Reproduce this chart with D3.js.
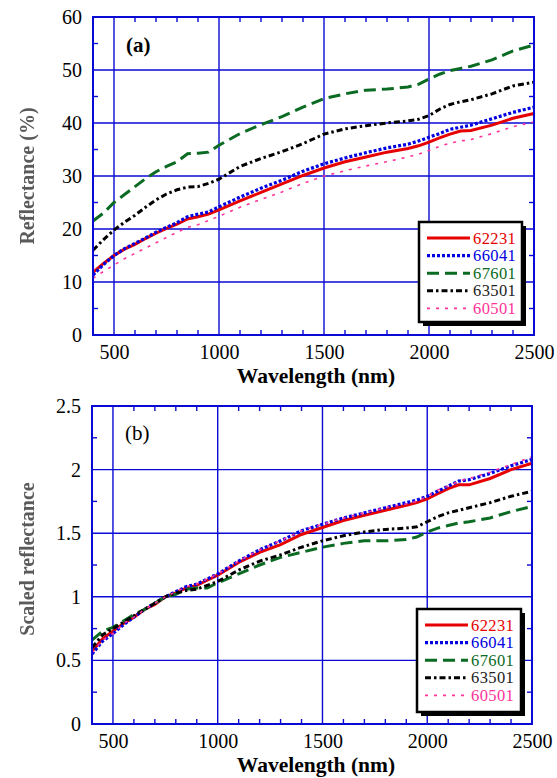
<!DOCTYPE html>
<html>
<head>
<meta charset="utf-8">
<script src="https://cdn.jsdelivr.net/npm/d3@7"></script>
<style>
  body { margin: 0; background: #fff; }
  svg { display: block; }
  text { font-family: "Liberation Serif", "Times New Roman", serif; }
</style>
</head>
<body>
<div id="chart"></div>
<script>
// wavelengths (nm) shared by every series
var wavelengths = [400, 450, 500, 550, 600, 650, 700, 750, 800, 850, 900, 950, 1000,
    1100, 1200, 1300, 1400, 1500, 1600, 1700, 1800, 1900, 1950, 2000, 2050, 2100,
    2150, 2200, 2300, 2400, 2500];

var sampleNames = ["62231", "66041", "67601", "63501", "60501"];

// (a) reflectance in %
var refl62231 = [11.8, 13.5, 15.0, 16.2, 17.1, 18.2, 19.2, 20.1, 20.9, 21.9, 22.3, 22.8, 23.6, 25.3, 26.9, 28.5, 30.1, 31.5, 32.7, 33.6, 34.5, 35.2, 35.7, 36.4, 37.2, 37.9, 38.5, 38.6, 39.6, 40.9, 41.8];
var refl66041 = [11.3, 13.3, 15.0, 16.3, 17.3, 18.3, 19.4, 20.3, 21.2, 22.3, 22.8, 23.2, 24.2, 26.0, 27.7, 29.2, 30.9, 32.3, 33.4, 34.4, 35.3, 36.0, 36.6, 37.3, 38.0, 38.8, 39.2, 39.6, 40.8, 42.0, 43.0];
var refl67601 = [21.5, 23.0, 25.0, 26.5, 28.0, 29.5, 30.8, 31.8, 32.7, 34.2, 34.3, 34.5, 35.8, 38.0, 39.7, 41.2, 43.0, 44.6, 45.5, 46.2, 46.4, 46.8, 47.3, 48.3, 49.2, 49.9, 50.3, 50.7, 51.9, 53.6, 54.7];
var refl63501 = [16.0, 18.0, 19.8, 21.3, 22.6, 24.1, 25.5, 26.6, 27.4, 27.9, 28.0, 28.6, 29.4, 31.8, 33.3, 34.6, 36.1, 37.9, 38.9, 39.5, 40.0, 40.4, 40.7, 41.4, 42.6, 43.5, 44.0, 44.4, 45.5, 47.0, 47.7];
var refl60501 = [10.7, 12.0, 13.2, 14.4, 15.4, 16.4, 17.4, 18.4, 19.4, 20.3, 20.8, 21.6, 22.4, 24.1, 25.6, 27.0, 28.6, 30.0, 31.0, 31.9, 32.7, 33.6, 34.1, 34.8, 35.6, 36.2, 36.6, 36.9, 38.0, 39.3, 40.2];

// (b) scaled reflectance
var scaled62231 = [0.57, 0.67, 0.73, 0.79, 0.84, 0.90, 0.94, 1.00, 1.03, 1.07, 1.09, 1.13, 1.17, 1.27, 1.35, 1.41, 1.49, 1.545, 1.60, 1.64, 1.68, 1.72, 1.74, 1.77, 1.81, 1.85, 1.88, 1.88, 1.93, 2.00, 2.05];
var scaled66041 = [0.55, 0.65, 0.71, 0.78, 0.84, 0.90, 0.95, 1.00, 1.04, 1.08, 1.10, 1.14, 1.18, 1.28, 1.37, 1.44, 1.52, 1.57, 1.62, 1.66, 1.70, 1.74, 1.76, 1.79, 1.83, 1.87, 1.91, 1.92, 1.97, 2.03, 2.08];
var scaled67601 = [0.66, 0.73, 0.76, 0.81, 0.86, 0.90, 0.95, 1.00, 1.02, 1.06, 1.07, 1.07, 1.11, 1.18, 1.25, 1.31, 1.35, 1.39, 1.42, 1.44, 1.44, 1.45, 1.47, 1.51, 1.54, 1.56, 1.58, 1.59, 1.62, 1.67, 1.71];
var scaled63501 = [0.60, 0.70, 0.75, 0.80, 0.85, 0.90, 0.95, 1.00, 1.03, 1.05, 1.06, 1.09, 1.12, 1.21, 1.28, 1.33, 1.39, 1.44, 1.48, 1.51, 1.53, 1.54, 1.55, 1.59, 1.63, 1.66, 1.68, 1.70, 1.74, 1.79, 1.83];
var scaled60501 = [0.56, 0.66, 0.71, 0.79, 0.84, 0.90, 0.95, 1.00, 1.04, 1.08, 1.10, 1.14, 1.18, 1.28, 1.37, 1.44, 1.52, 1.57, 1.62, 1.66, 1.70, 1.73, 1.75, 1.79, 1.84, 1.87, 1.91, 1.93, 1.98, 2.04, 2.10];

var xTicks = [500, 1000, 1500, 2000, 2500];
var yTicksA = [0, 10, 20, 30, 40, 50, 60];
var yTicksB = [0, 0.5, 1, 1.5, 2, 2.5];

// line styles per sample (same order as sampleNames)
var lineStyles = [
    { color: "#e60000", width: 3, dash: null },
    { color: "#0000e0", width: 3.2, dash: "3,2" },
    { color: "#0b6b23", width: 3, dash: "12,6" },
    { color: "#000000", width: 3, dash: "6,3,2.5,3" },
    { color: "#ff3399", width: 1.6, dash: "3,6" }
];

var blue = "#0a0ad6";

var svg = d3.select("#chart")
    .append("svg")
    .attr("width", 557)
    .attr("height", 778);

// soft blur for the grey y titles
svg.append("defs").append("filter")
    .attr("id", "soft")
    .append("feGaussianBlur")
    .attr("stdDeviation", 0.6);

function drawPanel(p) {
    var x = d3.scaleLinear().domain([400, 2500]).range([p.left, p.right]);
    var y = d3.scaleLinear().domain(p.yDomain).range([p.bottom, p.top]);
    var g = svg.append("g");

    // grid lines
    g.append("g").selectAll("line")
        .data(xTicks.filter(d => d < 2500))
        .enter().append("line")
        .attr("x1", d => x(d)).attr("x2", d => x(d))
        .attr("y1", p.top).attr("y2", p.bottom)
        .attr("stroke", blue).attr("stroke-width", 1.4);

    g.append("g").selectAll("line")
        .data(p.yTicks.slice(1, -1))
        .enter().append("line")
        .attr("x1", p.left).attr("x2", p.right)
        .attr("y1", d => y(d)).attr("y2", d => y(d))
        .attr("stroke", blue).attr("stroke-width", 1.4);

    // minor ticks, inside the frame
    var xMinor = d3.range(500, 2500, 100).filter(d => d % 500 != 0);
    xMinor.forEach(function (d) {
        g.append("line").attr("x1", x(d)).attr("x2", x(d))
            .attr("y1", p.top).attr("y2", p.top + 5)
            .attr("stroke", blue).attr("stroke-width", 1.4);
        g.append("line").attr("x1", x(d)).attr("x2", x(d))
            .attr("y1", p.bottom).attr("y2", p.bottom - 5)
            .attr("stroke", blue).attr("stroke-width", 1.4);
    });
    p.yMinor.forEach(function (d) {
        g.append("line").attr("x1", p.left).attr("x2", p.left + 5)
            .attr("y1", y(d)).attr("y2", y(d))
            .attr("stroke", blue).attr("stroke-width", 1.4);
        g.append("line").attr("x1", p.right).attr("x2", p.right - 5)
            .attr("y1", y(d)).attr("y2", y(d))
            .attr("stroke", blue).attr("stroke-width", 1.4);
    });

    // the curves
    var line = d3.line()
        .x((d, i) => x(wavelengths[i]))
        .y(d => y(d));

    p.series.forEach(function (vals, i) {
        var st = lineStyles[i];
        g.append("path")
            .datum(vals)
            .attr("d", line)
            .attr("fill", "none")
            .attr("stroke", st.color)
            .attr("stroke-width", st.width)
            .attr("stroke-dasharray", st.dash);
    });

    // frame
    g.append("rect")
        .attr("x", p.left).attr("y", p.top)
        .attr("width", p.right - p.left).attr("height", p.bottom - p.top)
        .attr("fill", "none").attr("stroke", blue).attr("stroke-width", 2);

    // axes (labels only, ticks drawn above)
    var xAxis = d3.axisBottom(x).tickValues(xTicks).tickSize(0).tickPadding(10)
        .tickFormat(d3.format("d"));
    var gx = g.append("g")
        .attr("transform", `translate(0, ${p.bottom})`)
        .call(xAxis);
    gx.select(".domain").remove();
    gx.selectAll("text").attr("font-size", "20px").attr("fill", "#000")
        .attr("font-family", "Liberation Serif");

    var yAxis = d3.axisLeft(y).tickValues(p.yTicks).tickSize(0).tickPadding(11)
        .tickFormat(d3.format("~g"));
    var gy = g.append("g")
        .attr("transform", `translate(${p.left}, 0)`)
        .call(yAxis);
    gy.select(".domain").remove();
    gy.selectAll("text").attr("font-size", "20px").attr("fill", "#000")
        .attr("font-family", "Liberation Serif");

    // axis titles
    g.append("text")
        .attr("x", 316).attr("y", p.xTitleY)
        .attr("text-anchor", "middle")
        .attr("font-size", "21.5px").attr("font-weight", "bold")
        .text("Wavelength (nm)");

    g.append("text")
        .attr("transform", `translate(34, ${p.yTitleY}) rotate(-90)`)
        .attr("text-anchor", "middle")
        .attr("font-size", "20px").attr("font-weight", "bold")
        .attr("fill", "#5a5a5a")
        .attr("filter", "url(#soft)")
        .text(p.yTitle);

    // panel tag
    g.append("text")
        .attr("x", p.left + 33).attr("y", p.tagY)
        .attr("font-size", "21px").attr("font-weight", p.tagWeight)
        .text(p.tag);

    // legend box with drop shadow
    var lg = p.legend;
    g.append("rect")
        .attr("x", lg.x + 4).attr("y", lg.y + 4)
        .attr("width", lg.w).attr("height", lg.h)
        .attr("fill", "#000");
    g.append("rect")
        .attr("x", lg.x).attr("y", lg.y)
        .attr("width", lg.w).attr("height", lg.h)
        .attr("fill", "#fff").attr("stroke", "#000").attr("stroke-width", 2.5);

    sampleNames.forEach(function (name, i) {
        var st = lineStyles[i];
        var ry = lg.y + 16 + i * 17.6;
        g.append("line")
            .attr("x1", lg.x + 8).attr("x2", lg.x + 51)
            .attr("y1", ry).attr("y2", ry)
            .attr("stroke", st.color)
            .attr("stroke-width", st.width)
            .attr("stroke-dasharray", st.dash);
        g.append("text")
            .attr("x", lg.x + 54).attr("y", ry + 5.5)
            .attr("font-size", "16.5px")
            .attr("letter-spacing", "0.4px")
            .attr("fill", i == 3 ? "#222" : st.color)
            .text(name);
    });
}

drawPanel({
    left: 93, right: 534, top: 17, bottom: 335,
    yDomain: [0, 60], yTicks: yTicksA, yMinor: [5, 15, 25, 35, 45, 55],
    series: [refl62231, refl66041, refl67601, refl63501, refl60501],
    xTitleY: 383, yTitle: "Reflectance (%)", yTitleY: 176,
    tag: "(a)", tagY: 52, tagWeight: "bold",
    legend: { x: 419, y: 222, w: 103, h: 100 }
});

drawPanel({
    left: 92, right: 532, top: 406, bottom: 724,
    yDomain: [0, 2.5], yTicks: yTicksB, yMinor: [0.25, 0.75, 1.25, 1.75, 2.25],
    series: [scaled62231, scaled66041, scaled67601, scaled63501, scaled60501],
    xTitleY: 772, yTitle: "Scaled reflectance", yTitleY: 559,
    tag: "(b)", tagY: 440, tagWeight: "normal",
    legend: { x: 417, y: 609, w: 104, h: 103 }
});
</script>
</body>
</html>
